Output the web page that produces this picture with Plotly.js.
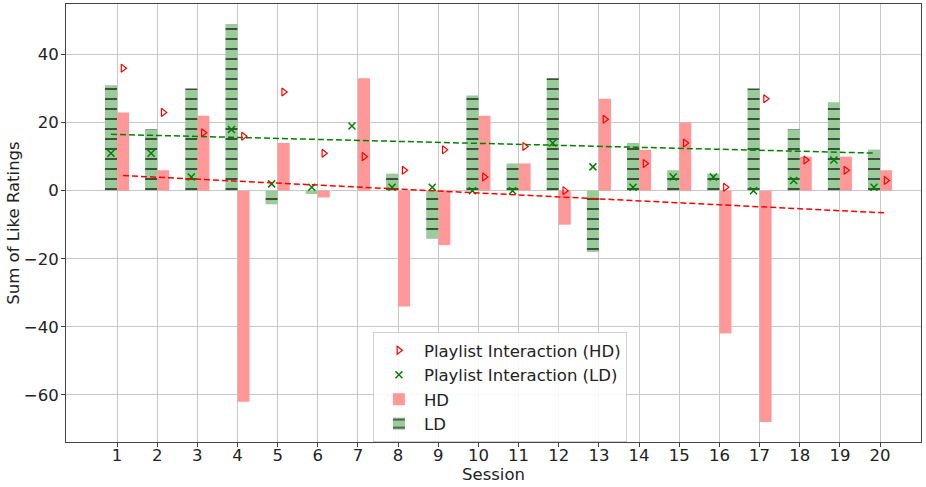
<!DOCTYPE html>
<html>
<head>
<meta charset="utf-8">
<script src="https://cdn.plot.ly/plotly-3.0.1.min.js"></script>
<style>html,body{margin:0;padding:0;background:#fff;}#chart{width:926px;height:487px;}</style>
</head>
<body>
<div id="chart"></div>
<script>
const sessions = [1,2,3,4,5,6,7,8,9,10,11,12,13,14,15,16,17,18,19,20];
const hdSum = [23,6,22,-62,14,-2,33,-34,-16,22,8,-10,27,12,20,-42,-68,10,10,6];
const ldSum = [31,18,30,49,-4,-1,0,5,-14,28,8,33,-18,14,6,5,30,18,26,12];
const hdPlaylist = [36,23,17,16,29,11,10,6,12,4,13,0,21,8,14,1,27,9,6,3];
const ldPlaylist = [11,11,4,18,2,1,19,1,1,0,0,14,7,1,4,4,0,3,9,1];

const OFF = 0.15;
const ldX = sessions.map(s => s - OFF);
const hdX = sessions.map(s => s + OFF);

function linFit(xs, ys) {
  const n = xs.length;
  const mx = xs.reduce((a,b)=>a+b,0)/n;
  const my = ys.reduce((a,b)=>a+b,0)/n;
  let sxy = 0, sxx = 0;
  for (let i = 0; i < n; i++) { sxy += (xs[i]-mx)*(ys[i]-my); sxx += (xs[i]-mx)*(xs[i]-mx); }
  const b = sxy/sxx, a = my - b*mx;
  return x => a + b*x;
}
const fHD = linFit(sessions, hdSum);
const fLD = linFit(sessions, ldSum);

const font = {family: 'DejaVu Sans, sans-serif', size: 16.5, color: '#222'};

const traces = [
  {type:'scatter', mode:'markers', x: hdX, y: hdPlaylist, name:'Playlist Interaction (HD)',
   marker:{symbol:'triangle-right-open', size:7, color:'red', line:{color:'red', width:1.2}}},
  {type:'scatter', mode:'markers', x: ldX, y: ldPlaylist, name:'Playlist Interaction (LD)',
   marker:{symbol:'x-thin', size:7, color:'green', line:{color:'green', width:1.5}}},
  {type:'bar', x: sessions, y: hdSum, name:'HD', offset: 0, width: 0.3,
   marker:{color:'#ff9999', line:{width:0}}},
  {type:'bar', x: sessions, y: ldSum, name:'LD', offset: -0.3, width: 0.3,
   marker:{color:'#99cc99', line:{width:0},
     pattern:{shape:'-', fgcolor:'#1a1a1a', bgcolor:'#99cc99', size:10, solidity:0.18, fgopacity:0.8}}},
  {type:'scatter', mode:'lines', x:[ldX[0], ldX[ldX.length-1]],
   y:[fLD(sessions[0]), fLD(sessions[sessions.length-1])], showlegend:false, hoverinfo:'skip',
   line:{color:'green', width:1.5, dash:'6px,3px'}},
  {type:'scatter', mode:'lines', x:[hdX[0], hdX[hdX.length-1]],
   y:[fHD(sessions[0]), fHD(sessions[sessions.length-1])], showlegend:false, hoverinfo:'skip',
   line:{color:'red', width:1.5, dash:'6px,3px'}}
];

const layout = {
  width: 926, height: 487,
  margin: {l:66, r:5, t:4, b:45},
  paper_bgcolor:'#fff', plot_bgcolor:'#fff',
  font: font,
  barmode:'overlay',
  showlegend:true,
  xaxis: {
    range:[-0.27, 21.02], tickmode:'array', tickvals: sessions, ticktext: sessions.map(String),
    showgrid:true, gridcolor:'#c8c8c8', gridwidth:1, zeroline:false,
    showline:true, linecolor:'#444', linewidth:1, mirror:true,
    ticks:'outside', ticklen:4, tickcolor:'#444', tickfont:font, ticklabelstandoff:-6,
    title:{text:'Session', font:font, standoff:0}
  },
  yaxis: {
    range:[-73.85, 54.85], tickmode:'array', tickvals:[-60,-40,-20,0,20,40],
    showgrid:true, gridcolor:'#c8c8c8', gridwidth:1, zeroline:false,
    showline:true, linecolor:'#444', linewidth:1, mirror:true,
    ticks:'outside', ticklen:4, tickcolor:'#444', tickfont:font, ticklabelstandoff:-1,
    title:{text:'Sum of Like Ratings', font:font, standoff:0}
  },
  legend: {
    x:0.359, y:0.251, xanchor:'left', yanchor:'top',
    bgcolor:'rgba(255,255,255,0.85)', bordercolor:'#d0d0d0', borderwidth:1,
    font: font, traceorder:'normal', itemwidth:40
  }
};

Plotly.newPlot('chart', traces, layout, {displayModeBar:false, staticPlot:true});
</script>
</body>
</html>
